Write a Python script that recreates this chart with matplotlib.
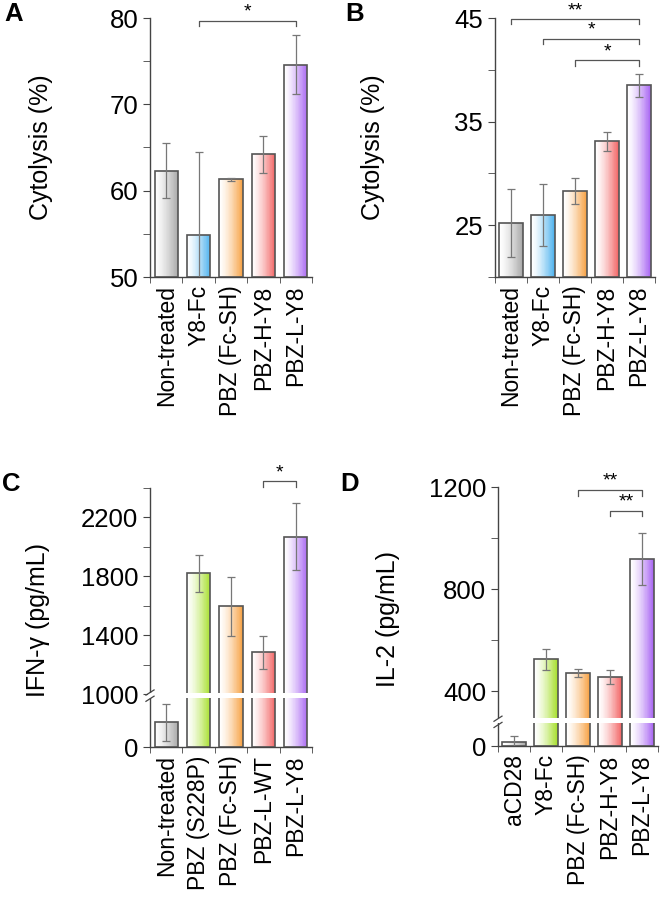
import matplotlib
matplotlib.use("Agg")
import matplotlib.pyplot as plt
import numpy as np
from matplotlib.colors import to_rgb
from matplotlib.transforms import blended_transform_factory
from matplotlib.patches import Rectangle

plt.rcParams['font.family'] = ['Liberation Sans', 'DejaVu Sans']

# ---- data ----
labels_a = ['Non-treated', 'Y8-Fc', 'PBZ (Fc-SH)', 'PBZ-H-Y8', 'PBZ-L-Y8']
mean_a = [62.3, 54.9, 61.3, 64.2, 74.6]
err_a = [3.2, 9.6, 0.2, 2.1, 3.4]

labels_b = ['Non-treated', 'Y8-Fc', 'PBZ (Fc-SH)', 'PBZ-H-Y8', 'PBZ-L-Y8']
mean_b = [25.2, 26.0, 28.3, 33.1, 38.5]
err_b = [3.3, 3.0, 1.3, 0.9, 1.1]

labels_c = ['Non-treated', 'PBZ (S228P)', 'PBZ (Fc-SH)', 'PBZ-L-WT', 'PBZ-L-Y8']
mean_c = [464, 1820, 1597, 1283, 2070]
err_c = [345, 128, 200, 112, 225]

labels_d = ['aCD28', 'Y8-Fc', 'PBZ (Fc-SH)', 'PBZ-H-Y8', 'PBZ-L-Y8']
mean_d = [50, 524, 472, 455, 916]
err_d = [69, 42, 16, 28, 102]

grey = '#a9a9a9'
blue = '#4db2ee'
orange = '#f6a144'
red = '#f26565'
purple = '#a865f2'
green = '#a6df2c'
colors_a = [grey, blue, orange, red, purple]
colors_c = [grey, green, orange, red, purple]
colors_d = [grey, green, orange, red, purple]

# significance brackets: (from, to, height, drop, label)
sig_a = [(1, 4, 79.7, 0.6, '*')]
sig_b = [(0, 4, 44.9, 0.5, '**'), (1, 4, 43.0, 0.5, '*'), (2, 4, 40.9, 0.5, '*')]
sig_c = [(3, 4, 2447, 42, '*')]
sig_d = [(2, 4, 1189, 23, '**'), (3, 4, 1107, 21, '**')]

W, H = 666, 897
fig = plt.figure(figsize=(W / 100, H / 100), dpi=100)


def make_ax(l, r, top, bot):
    return fig.add_axes([l / W, 1 - bot / H, (r - l) / W, (bot - top) / H])


def piecewise(xp, fp):
    xp = np.asarray(xp, float)
    fp = np.asarray(fp, float)

    def f(v):
        v = np.asarray(v, float)
        out = np.interp(v, xp, fp)
        lo = v < xp[0]
        hi = v > xp[-1]
        s0 = (fp[1] - fp[0]) / (xp[1] - xp[0])
        s1 = (fp[-1] - fp[-2]) / (xp[-1] - xp[-2])
        out = np.where(lo, fp[0] + (v - xp[0]) * s0, out)
        out = np.where(hi, fp[-1] + (v - xp[-1]) * s1, out)
        return out
    return f


def draw_bars(ax, means, errs, cols, bottom=0):
    x = np.arange(len(means))
    w = 0.72
    n = 40
    for i, (m, c) in enumerate(zip(means, cols)):
        rgb = np.array(to_rgb(c))
        for k in range(n):
            t = ((k + 0.5) / n) ** 1.4
            fc = (1 - t) * np.ones(3) + t * rgb
            ax.bar(x[i] - w / 2 + k * w / n, m - bottom, width=w / n * 1.05,
                   bottom=bottom, align='edge', color=fc, linewidth=0, zorder=2)
    ax.bar(x, np.array(means) - bottom, width=w, bottom=bottom, facecolor='none',
           edgecolor='#555555', linewidth=1.2, zorder=3)
    ax.errorbar(x, means, yerr=errs, fmt='none', ecolor='#777777',
                elinewidth=0.9, capsize=2.8, capthick=0.9, zorder=4)


def style_ax(ax, labels):
    for s in ['top', 'right']:
        ax.spines[s].set_visible(False)
    for s in ['left', 'bottom']:
        ax.spines[s].set_color('#444444')
        ax.spines[s].set_linewidth(1.0)
    ax.set_xlim(-0.5, len(labels) - 0.5)
    ax.set_xticks(np.arange(len(labels)))
    ax.set_xticklabels(labels, rotation=90, fontsize=16.5)
    ax.set_xticks(np.arange(len(labels) + 1) - 0.5, minor=True)
    ax.tick_params(axis='x', which='major', length=0, pad=6)
    ax.tick_params(axis='x', which='minor', length=4, color='#444444')
    ax.tick_params(axis='y', which='both', length=5, color='#444444', labelsize=18.5)
    ax.tick_params(axis='y', which='minor', length=5)


def brackets(ax, sig):
    for i, j, y, d, lab in sig:
        ax.plot([i, i, j, j], [y - d, y, y, y - d], color='#555555', lw=0.9,
                clip_on=False, zorder=5)
        ax.text((i + j) / 2, y, lab, ha='center', va='bottom', fontsize=14,
                clip_on=False)


def break_mark(ax, y0, y1):
    tr = blended_transform_factory(ax.transAxes, ax.transData)
    ax.add_patch(Rectangle((-0.015, y0), 1.02, y1 - y0, transform=tr,
                           facecolor='white', edgecolor='none', zorder=10,
                           clip_on=False))
    ym = (y0 + y1) / 2
    ya = ax.transAxes.inverted().transform(ax.transData.transform((0, ym)))[1]
    for dy in (-0.012, 0.012):
        ax.plot([-0.025, 0.025], [ya + dy - 0.01, ya + dy + 0.01],
                transform=ax.transAxes, color='#444444', lw=0.9,
                clip_on=False, zorder=11)


# ---- A ----
ax = make_ax(150, 312, 18, 277)
draw_bars(ax, mean_a, err_a, colors_a, bottom=50)
style_ax(ax, labels_a)
ax.set_ylim(50, 80)
ax.set_yticks([50, 60, 70, 80])
ax.set_yticks([55, 65, 75], minor=True)
ax.set_ylabel('Cytolysis (%)', fontsize=18)
ax.yaxis.set_label_coords(-0.6, 0.5)
brackets(ax, sig_a)

# ---- B ----
ax = make_ax(495, 655, 18, 277)
draw_bars(ax, mean_b, err_b, colors_a, bottom=20)
style_ax(ax, labels_b)
ax.set_ylim(20, 45)
ax.set_yticks([25, 35, 45])
ax.set_yticks([20, 30, 40], minor=True)
ax.set_ylabel('Cytolysis (%)', fontsize=18)
ax.yaxis.set_label_coords(-0.69, 0.5)
brackets(ax, sig_b)

# ---- C ----
ax = make_ax(150, 312, 488, 747)
fwd = piecewise([0, 1000, 2400], [0, 53, 259])
inv = piecewise([0, 53, 259], [0, 1000, 2400])
ax.set_yscale('function', functions=(fwd, inv))
draw_bars(ax, mean_c, err_c, colors_c, bottom=0)
style_ax(ax, labels_c)
ax.set_ylim(0, 2400)
ax.set_yticks([0, 1000, 1400, 1800, 2200])
ax.set_yticklabels(['0', '1000', '1400', '1800', '2200'])
ax.set_yticks([1200, 1600, 2000, 2400], minor=True)
ax.yaxis.set_minor_formatter(matplotlib.ticker.NullFormatter())
ax.set_ylabel('IFN-γ (pg/mL)', fontsize=18)
ax.yaxis.set_label_coords(-0.62, 0.49)
break_mark(ax, 930, 1008)
brackets(ax, sig_c)

# ---- D ----
ax = make_ax(498, 658, 487, 746)
fwd = piecewise([0, 280, 1200], [0, 24.3, 259.3])
inv = piecewise([0, 24.3, 259.3], [0, 280, 1200])
ax.set_yscale('function', functions=(fwd, inv))
draw_bars(ax, mean_d, err_d, colors_d, bottom=0)
style_ax(ax, labels_d)
ax.set_ylim(0, 1200)
ax.set_yticks([0, 400, 800, 1200])
ax.set_yticklabels(['0', '400', '800', '1200'])
ax.set_yticks([600, 1000], minor=True)
ax.yaxis.set_minor_formatter(matplotlib.ticker.NullFormatter())
ax.set_ylabel('IL-2 (pg/mL)', fontsize=18)
ax.yaxis.set_label_coords(-0.61, 0.49)
break_mark(ax, 262, 296)
brackets(ax, sig_d)

# panel letters
for lx, ly, t in [(4, 21, 'A'), (345, 21, 'B'), (2, 491, 'C'), (340, 491, 'D')]:
    fig.text(lx / W, 1 - ly / H, t, fontsize=18.5, fontweight='bold', va='baseline')

fig.savefig('out.png', dpi=100)
